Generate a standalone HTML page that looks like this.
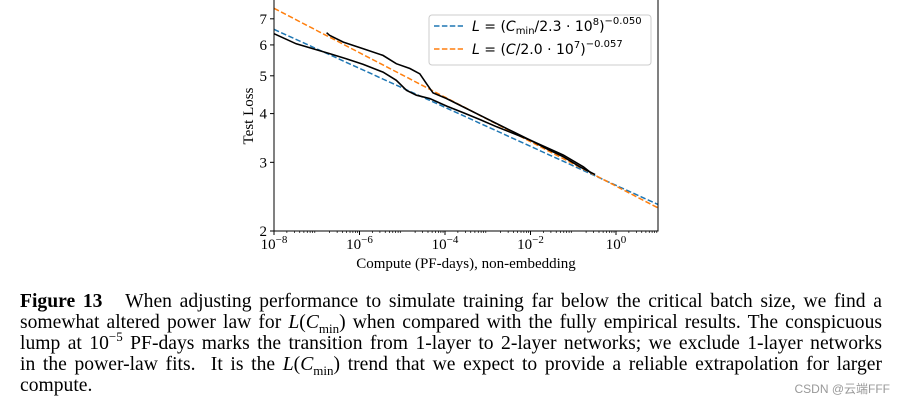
<!DOCTYPE html>
<html><head><meta charset="utf-8"><style>
body{margin:0;background:#fff;width:902px;height:407px;overflow:hidden;position:relative}
svg{position:absolute;left:0;top:0}
.cap{position:absolute;left:20px;width:862px;font-family:"Liberation Serif",serif;font-size:19.6px;line-height:21px;color:#000}
.ln{display:block;text-align:justify;text-align-last:justify;white-space:nowrap;height:21px;overflow:visible}
.last{text-align-last:left}
.sb{font-size:13px;position:relative;top:5px;line-height:0}
.sp{font-size:13px;position:relative;top:-8px;line-height:0}
.wm{position:absolute;right:12px;top:380px;font-family:"Liberation Sans","Noto Sans CJK SC",sans-serif;font-size:12px;color:#999}
</style></head><body>
<svg id="chart" width="902" height="280"></svg>
<div class="cap" style="top:291px">
<span class="ln"><b>Figure 13</b>&nbsp;&nbsp; When adjusting performance to simulate training far below the critical batch size, we find a</span>
<span class="ln">somewhat altered power law for <i>L</i>(<i>C</i><span class="sb">min</span>) when compared with the fully empirical results. The conspicuous</span>
<span class="ln">lump at 10<span class="sp">−5</span> PF-days marks the transition from 1-layer to 2-layer networks; we exclude 1-layer networks</span>
<span class="ln">in the power-law fits. &nbsp;It is the <i>L</i>(<i>C</i><span class="sb">min</span>) trend that we expect to provide a reliable extrapolation for larger</span>
<span class="ln last">compute.</span>
</div>
<div class="wm">CSDN @云端FFF</div>
<script>
const xTicks=[-8,-6,-4,-2,0];
const yTicks=[2,3,4,5,6,7];
const lowerLogC=[-8.00,-7.48,-6.70,-6.31,-5.92,-5.45,-5.14,-4.90,-4.67,-4.35,-3.96,-3.57,-3.18,-2.79,-2.01,-1.23,-0.76,-0.57];
const lowerLoss=[6.41,6.04,5.70,5.53,5.35,5.11,4.87,4.59,4.46,4.37,4.18,4.02,3.86,3.70,3.42,3.13,2.92,2.81];
const upperLogC=[-6.77,-6.70,-6.38,-5.92,-5.45,-5.14,-4.82,-4.59,-4.43,-4.28,-3.96,-3.57,-3.18,-2.79,-2.40,-2.01,-1.62,-1.23,-0.84,-0.49];
const upperLoss=[6.45,6.35,6.10,5.87,5.64,5.37,5.22,5.06,4.77,4.52,4.37,4.16,3.96,3.77,3.59,3.42,3.25,3.10,2.92,2.79];
const fitMin={scale:2.3e8,exp:0.050};
const fitC={scale:2.0e7,exp:0.057};
const X0=274,X1=658,Y0=231,Y1=0;
const pxDec=(616-274)/8,pxLog=390;
const xMin=-8,xMax=-8+(X1-X0)/pxDec;
const sx=v=>X0+(v-xMin)*pxDec;
const sy=L=>Y0-Math.log10(L/2)*pxLog;
const NS="http://www.w3.org/2000/svg";
const svg=document.getElementById('chart');
function mk(t,a){const e=document.createElementNS(NS,t);for(const k in a)e.setAttribute(k,a[k]);svg.appendChild(e);return e;}
const clip=document.createElementNS(NS,'clipPath');clip.setAttribute('id','pc');
const cr=document.createElementNS(NS,'rect');cr.setAttribute('x',X0);cr.setAttribute('y',Y1);cr.setAttribute('width',X1-X0);cr.setAttribute('height',Y0-Y1);clip.appendChild(cr);svg.appendChild(clip);
function fitPath(f){let d='';for(let i=0;i<=60;i++){const lc=xMin+(xMax-xMin)*i/60;const L=Math.pow(Math.pow(10,lc)/f.scale,-f.exp);d+=(i?'L':'M')+sx(lc).toFixed(1)+','+sy(L).toFixed(1);}return d;}
let p=mk('path',{d:fitPath(fitMin),fill:'none',stroke:'#1f77b4','stroke-width':1.5,'stroke-dasharray':'5.5,2.4','clip-path':'url(#pc)'});


p=mk('path',{d:fitPath(fitC),fill:'none',stroke:'#ff7f0e','stroke-width':1.5,'stroke-dasharray':'5.5,2.4','clip-path':'url(#pc)'});


function curve(xs,ys){return xs.map((v,i)=>(i?'L':'M')+sx(v).toFixed(1)+','+sy(ys[i]).toFixed(1)).join('');}
p=mk('path',{d:curve(lowerLogC,lowerLoss),fill:'none',stroke:'#000','stroke-width':1.6});


p=mk('path',{d:curve(upperLogC,upperLoss),fill:'none',stroke:'#000','stroke-width':1.6});


let r=mk('rect',{x:X0,y:Y1-1,width:X1-X0,height:Y0-Y1+1,fill:'none',stroke:'#000','stroke-width':1});


xTicks.forEach(t=>{const x=sx(t);mk('line',{x1:x,x2:x,y1:Y0,y2:Y0+4,stroke:'#000'});
 const tx=mk('text',{x:x,y:Y0+18,'text-anchor':'middle','font-family':'Liberation Serif, serif','font-size':15});
 
 
 tx.innerHTML='10<tspan dy="-6" font-size="11">'+(t<0?'−'+(-t):t)+'</tspan>';});
for(let d=-8;d<1;d++)for(let m=2;m<10;m++){const v=d+Math.log10(m);if(v<xMax){const x=sx(v);mk('line',{x1:x,x2:x,y1:Y0,y2:Y0+2,stroke:'#000','stroke-width':0.7});}}
yTicks.forEach(t=>{const y=sy(t);mk('line',{x1:X0-4,x2:X0,y1:y,y2:y,stroke:'#000'});
 const tx=mk('text',{x:X0-7,y:y+5,'text-anchor':'end','font-family':'Liberation Serif, serif','font-size':15});
 
 
 tx.textContent=t;});
let t=mk('text',{x:0,y:0,transform:'translate(253,116) rotate(-90)','text-anchor':'middle','font-family':'Liberation Serif, serif','font-size':15});


t.textContent='Test Loss';
t=mk('text',{x:466,y:268,'text-anchor':'middle','font-family':'Liberation Serif, serif','font-size':15});


t.textContent='Compute (PF-days), non-embedding';
r=mk('rect',{x:429,y:15,width:222,height:50,rx:3,fill:'#fff','fill-opacity':0.85,stroke:'#ccc'});


[['#1f77b4','<tspan font-style="italic">L</tspan> = (<tspan font-style="italic">C</tspan><tspan font-size="10" dy="3">min</tspan><tspan dy="-3">/2.3 · 10</tspan><tspan font-size="10" dy="-6">8</tspan><tspan dy="6">)</tspan><tspan font-size="10" dy="-7">−0.050</tspan>',31],
 ['#ff7f0e','<tspan font-style="italic">L</tspan> = (<tspan font-style="italic">C</tspan>/2.0 · 10<tspan font-size="10" dy="-6">7</tspan><tspan dy="6">)</tspan><tspan font-size="10" dy="-7">−0.057</tspan>',54]].forEach((e,i)=>{
 const l=mk('line',{x1:434,x2:463,y1:e[2]-5,y2:e[2]-5,stroke:e[0],'stroke-width':1.5,'stroke-dasharray':'5.5,2.4'});
 
 
 const tx=mk('text',{x:472,y:e[2],'font-family':'DejaVu Sans, sans-serif','font-size':14});
 
 
 tx.innerHTML=e[1];});
</script>
</body></html>
